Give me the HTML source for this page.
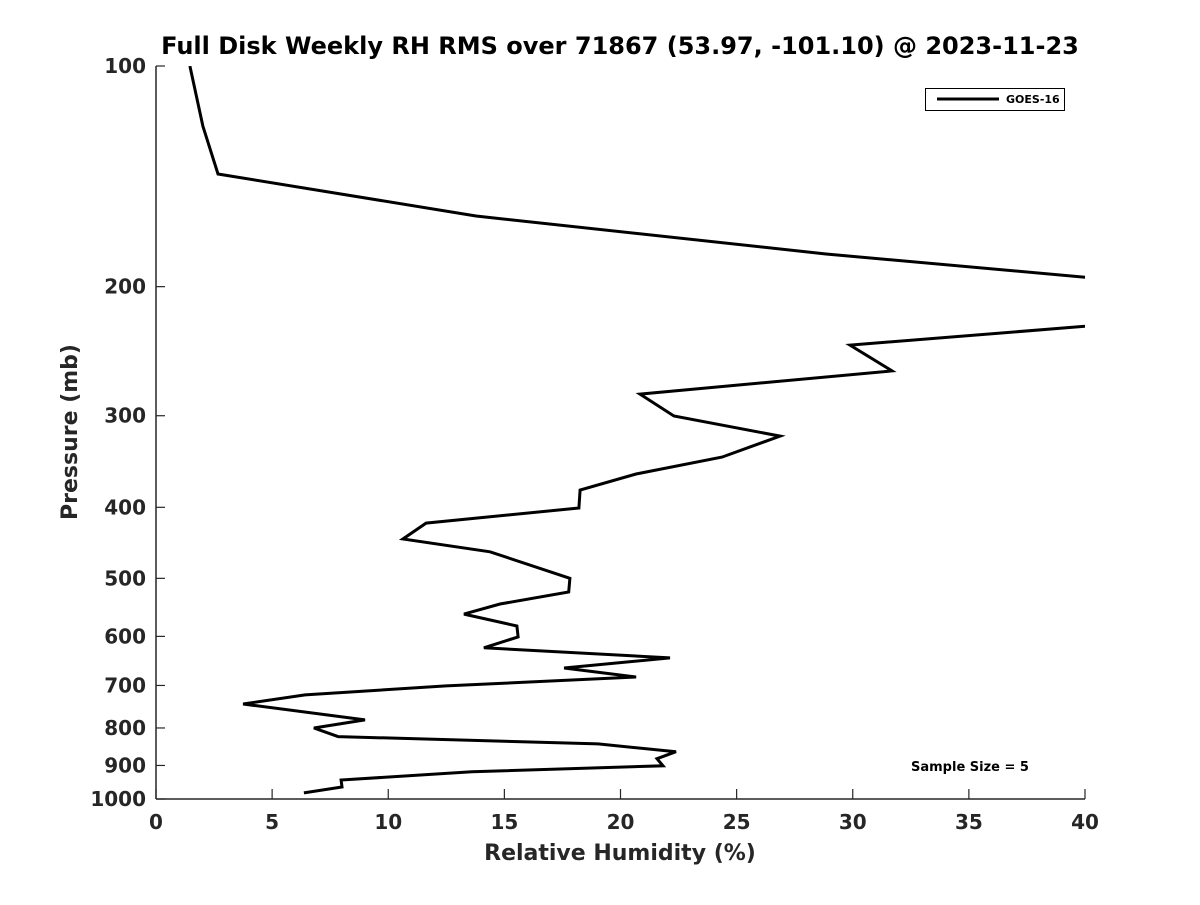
<!DOCTYPE html>
<html><head><meta charset="utf-8"><style>
html,body{margin:0;padding:0;background:#fff;}
svg text{font-family:"DejaVu Sans","Liberation Sans",sans-serif;font-weight:bold;fill:#262626;}
</style></head><body>
<svg id="chart" width="1200" height="900" xmlns="http://www.w3.org/2000/svg">
<rect width="1200" height="900" fill="#fff"/>
<defs><clipPath id="plotclip"><rect x="156" y="66" width="929" height="733"/></clipPath></defs>
<text x="620" y="54" font-size="24" text-anchor="middle" style="fill:#000">Full Disk Weekly RH RMS over 71867 (53.97, -101.10) @ 2023-11-23</text>
<g id="axes"></g>
<g id="series" clip-path="url(#plotclip)"></g>
<g>
<rect x="925.5" y="88.5" width="139" height="22" fill="#fff" stroke="#000" stroke-width="1"/>
<line x1="937" y1="99" x2="999" y2="99" stroke="#000" stroke-width="3"/>
<text x="1006" y="103" font-size="11" style="fill:#000">GOES-16</text>
</g>
<text x="911" y="771" font-size="13" style="fill:#000">Sample Size = 5</text>
<text x="620" y="860" font-size="22" text-anchor="middle">Relative Humidity (%)</text>
<text transform="translate(77,432) rotate(-90)" font-size="22" text-anchor="middle">Pressure (mb)</text>
</svg>
<script>
const xTicks = [0,5,10,15,20,25,30,35,40];
const yTicks = [100,200,300,400,500,600,700,800,900,1000];
const rhValues = [1.46,2.02,2.67,13.78,28.85,52,45,29.88,31.69,20.84,22.30,26.87,24.37,20.67,18.26,18.21,11.63,10.63,14.38,17.82,17.77,14.81,13.26,15.54,15.59,14.12,22.13,17.57,20.67,12.49,6.42,3.75,9.0,6.80,7.84,19.03,22.39,21.57,21.83,13.60,7.97,8.01,6.37];
const pressures = [100,120.8,140.4,160.2,180.5,210,220,240.3,260.6,280.3,300.3,319.8,341.6,360.3,378.8,400.9,420.3,441.9,460,500,521.9,542,559.4,580.8,601,622,642,662.6,681.6,701,721,742,780,800,822,841,862,881,901,918,942,963,981];

const L=156,R=1085,T=66,B=799;
function xs(v){return L+(v-0)/(40-0)*(R-L);}
function ys(p){return T+(Math.log10(p)-2)/(Math.log10(1000)-2)*(B-T);}
const NS='http://www.w3.org/2000/svg';
const axes=document.getElementById('axes');
function mk(tag,attrs,parent){const e=document.createElementNS(NS,tag);for(const k in attrs)e.setAttribute(k,attrs[k]);parent.appendChild(e);return e;}

const xa=mk('line',{x1:L,y1:B,x2:R,y2:B,stroke:'#262626','stroke-width':1.5},axes);


const ya=mk('line',{x1:L,y1:T,x2:L,y2:B,stroke:'#262626','stroke-width':1.5},axes);



xTicks.forEach(v=>{
  const x=xs(v);
  const t=mk('line',{x1:x,y1:B,x2:x,y2:B-10,stroke:'#262626','stroke-width':1.2},axes);
  
  
  const tx=mk('text',{x:x,y:B+30,'font-size':20,'text-anchor':'middle'},axes);
  tx.textContent=v;
  
  
});
yTicks.forEach(p=>{
  const y=ys(p);
  const t=mk('line',{x1:L,y1:y,x2:L+9,y2:y,stroke:'#262626','stroke-width':1.2},axes);
  
  
  const tx=mk('text',{x:L-10,y:y+7,'font-size':20,'text-anchor':'end'},axes);
  tx.textContent=p;
  
  
});

const pts=rhValues.map((v,i)=>xs(v).toFixed(1)+','+ys(pressures[i]).toFixed(1)).join(' ');
const line=mk('polyline',{points:pts,fill:'none',stroke:'#000','stroke-width':3,'stroke-linejoin':'miter'},document.getElementById('series'));


</script>
</body></html>
